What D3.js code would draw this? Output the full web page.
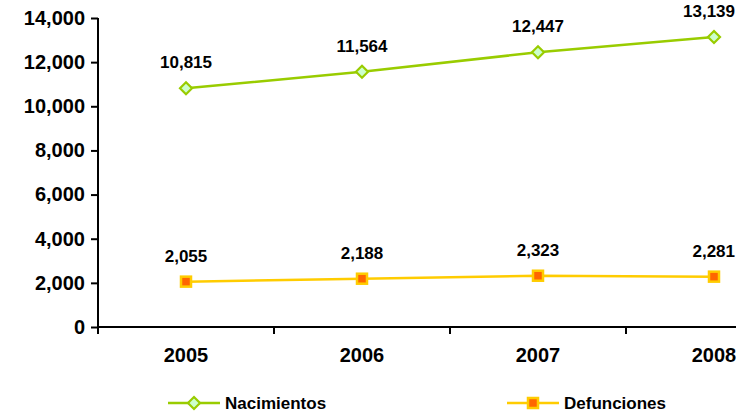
<!DOCTYPE html>
<html lang="es">
<head>
<meta charset="utf-8" />
<title>Nacimientos y Defunciones</title>
<script src="https://cdn.jsdelivr.net/npm/d3@7"></script>
<style>
  body { margin: 0; background: #fff; }
  svg { display: block; font-family: "Liberation Sans", Arial, sans-serif; font-weight: bold; }
</style>
</head>
<body>
<div id="chart"></div>
<script>
  var years = ["2005", "2006", "2007", "2008"];
  var nacimientos = [10815, 11564, 12447, 13139];
  var defunciones = [2055, 2188, 2323, 2281];
  var yTicks = [0, 2000, 4000, 6000, 8000, 10000, 12000, 14000];

  var width = 736, height = 414;
  var plotLeft = 98, plotTop = 18, plotBottom = 327;
  var band = 176;

  var svg = d3.select("#chart").append("svg")
      .attr("width", width)
      .attr("height", height);

  var x = d3.scaleBand()
      .domain(years)
      .range([plotLeft, plotLeft + band * years.length]);

  var y = d3.scaleLinear()
      .domain([0, 14000])
      .range([plotBottom, plotTop]);

  var fmt = d3.format(",");

  // y axis
  var yAxis = svg.append("g")
      .attr("transform", "translate(" + plotLeft + ",0)")
      .call(d3.axisLeft(y).tickValues(yTicks).tickFormat(fmt).tickSize(7).tickPadding(6));
  yAxis.select(".domain").attr("d", "M0," + plotTop + "V" + plotBottom).attr("stroke-width", 2);
  yAxis.selectAll(".tick line").attr("stroke-width", 2);
  yAxis.selectAll("text").attr("font-size", 20).attr("fill", "#000");

  // x axis
  var xAxis = svg.append("g")
      .attr("transform", "translate(0," + plotBottom + ")")
      .call(d3.axisBottom(x).tickSize(0).tickPadding(0));
  xAxis.select(".domain").attr("d", "M" + plotLeft + ",0H" + width).attr("stroke-width", 2);
  xAxis.selectAll(".tick text").attr("font-size", 20).attr("fill", "#000").attr("dy", 0).attr("y", 35);
  xAxis.selectAll(".tick line").remove();
  xAxis.selectAll(".boundary")
      .data(years)
      .enter().append("line")
      .attr("class", "boundary")
      .attr("x1", function(d) { return x(d); })
      .attr("x2", function(d) { return x(d); })
      .attr("y1", 0).attr("y2", 7)
      .attr("stroke", "#000").attr("stroke-width", 2);

  var cx = function(d, i) { return x(years[i]) + x.bandwidth() / 2; };

  var series = [
    { name: "Nacimientos", values: nacimientos, line: "#99CC00", fill: "#CCFFCC", marker: "diamond" },
    { name: "Defunciones", values: defunciones, line: "#FFCC00", fill: "#FF6600", marker: "square" }
  ];

  function drawMarker(g, s, px, py) {
    if (s.marker == "diamond") {
      g.append("path")
        .attr("d", "M" + px + "," + (py - 6) + "L" + (px + 6) + "," + py + "L" + px + "," + (py + 6) + "L" + (px - 6) + "," + py + "Z")
        .attr("fill", s.fill).attr("stroke", s.line).attr("stroke-width", 2.2);
    } else {
      g.append("rect")
        .attr("x", px - 5).attr("y", py - 5).attr("width", 10).attr("height", 10)
        .attr("fill", s.fill).attr("stroke", s.line).attr("stroke-width", 2.5);
    }
  }

  var line = d3.line()
      .x(cx)
      .y(function(d) { return y(d); });

  series.forEach(function(s) {
    var g = svg.append("g");
    g.append("path")
      .datum(s.values)
      .attr("d", line)
      .attr("fill", "none")
      .attr("stroke", s.line)
      .attr("stroke-width", 2.5);
    s.values.forEach(function(v, i) {
      drawMarker(g, s, cx(v, i), y(v));
    });
    g.selectAll(".lbl")
      .data(s.values)
      .enter().append("text")
      .attr("class", "lbl")
      .attr("x", cx)
      .attr("y", function(d) { return y(d) - 20; })
      .attr("text-anchor", "middle")
      .attr("font-size", 17)
      .attr("fill", "#000")
      .text(fmt)
      .each(function(d, i) {
        // keep the last label inside the picture
        var w = this.getComputedTextLength();
        var px = Math.min(cx(d, i), width - 1 - w / 2);
        d3.select(this).attr("x", px);
      });
  });

  // legend
  var legendX = [168, 507];
  series.forEach(function(s, i) {
    var g = svg.append("g");
    var lx = legendX[i], ly = 403;
    g.append("line")
      .attr("x1", lx).attr("x2", lx + 52)
      .attr("y1", ly).attr("y2", ly)
      .attr("stroke", s.line).attr("stroke-width", 2.5);
    drawMarker(g, s, lx + 26, ly);
    g.append("text")
      .attr("x", lx + 57).attr("y", ly + 6)
      .attr("font-size", 17)
      .attr("fill", "#000")
      .text(s.name);
  });
</script>
</body>
</html>
